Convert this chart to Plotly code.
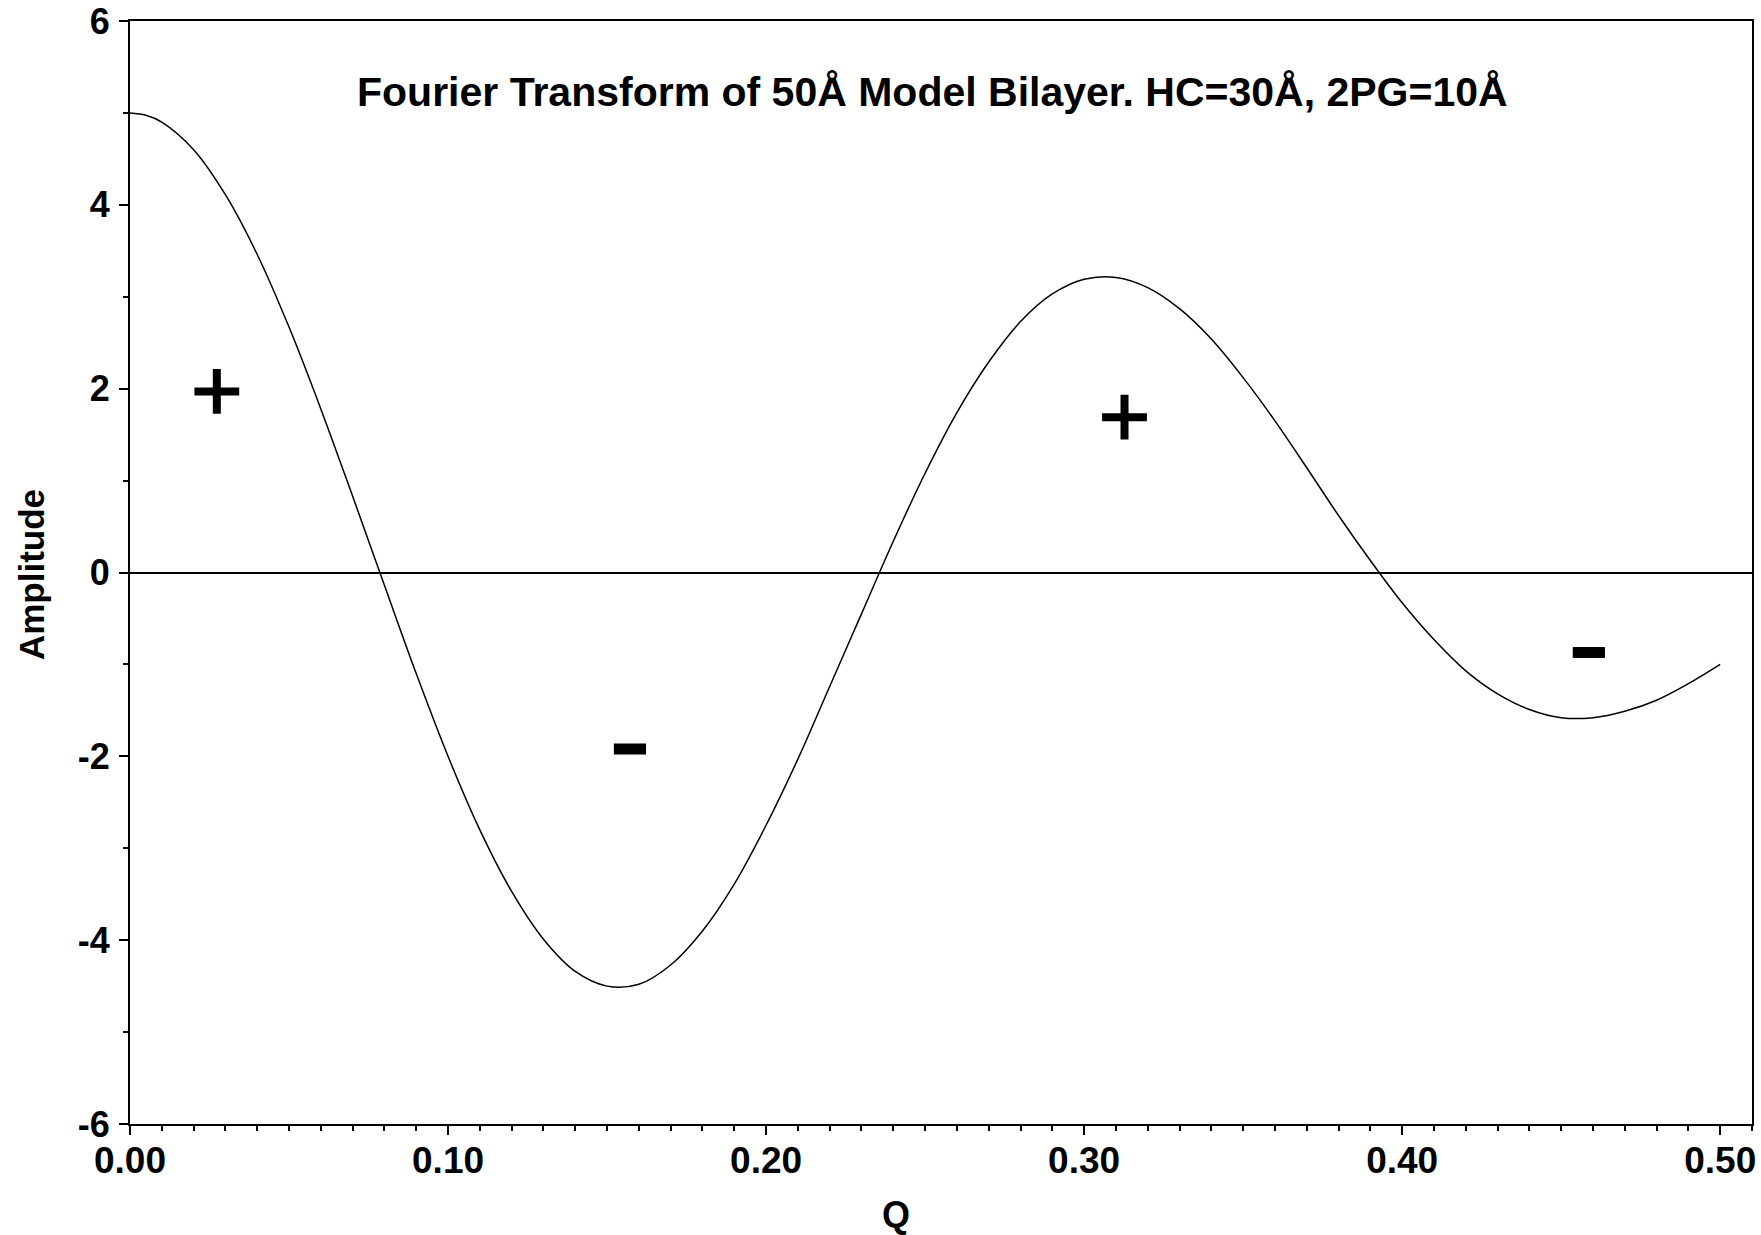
import plotly.graph_objects as go

# Curve (Q, Amplitude)
q_values = [0.00, 0.005, 0.01, 0.02, 0.03, 0.04, 0.05, 0.06, 0.07, 0.08, 0.09,
            0.10, 0.11, 0.12, 0.13, 0.14, 0.15, 0.16, 0.17, 0.18, 0.19,
            0.20, 0.21, 0.22, 0.23, 0.24, 0.25, 0.26, 0.27, 0.28, 0.29,
            0.30, 0.31, 0.32, 0.33, 0.34, 0.35, 0.36, 0.37, 0.38, 0.39,
            0.40, 0.41, 0.42, 0.43, 0.44, 0.45, 0.46, 0.47, 0.48, 0.49,
            0.50]
amplitude = [5.00, 4.975, 4.90, 4.60, 4.11, 3.46, 2.67, 1.78, 0.83, -0.14, -1.10,
             -2.00, -2.80, -3.47, -3.99, -4.34, -4.50, -4.48, -4.27, -3.90, -3.39,
             -2.75, -2.03, -1.24, -0.45, 0.34, 1.08, 1.74, 2.29, 2.73, 3.03,
             3.19, 3.21, 3.10, 2.87, 2.54, 2.12, 1.65, 1.14, 0.62, 0.13,
             -0.33, -0.73, -1.07, -1.32, -1.49, -1.58, -1.58, -1.51, -1.39, -1.21,
             -1.00]

# Sign markers
plus_q = [0.0273, 0.3127]
plus_amp = [1.97, 1.69]
minus_q = [0.1572, 0.4587]
minus_amp = [-1.92, -0.87]

# Tick labels
x_tickvals = [0.0, 0.1, 0.2, 0.3, 0.4, 0.5]
x_ticktext = ["0.00", "0.10", "0.20", "0.30", "0.40", "0.50"]
y_tickvals = [-6, -4, -2, 0, 2, 4, 6]
y_ticktext = ["-6", "-4", "-2", "0", "2", "4", "6"]

title_text = "Fourier Transform of 50Å Model Bilayer. HC=30Å, 2PG=10Å"
x_title = "Q"
y_title = "Amplitude"

FONT = "Liberation Sans, Arial, sans-serif"

fig = go.Figure()
fig.add_trace(go.Scatter(x=q_values, y=amplitude, mode="lines",
                         line=dict(color="black", width=1.5, shape="spline"),
                         showlegend=False, hoverinfo="skip"))
fig.add_trace(go.Scatter(x=plus_q, y=plus_amp, mode="markers",
                         marker=dict(symbol="cross-thin", size=32,
                                     line=dict(color="black", width=8)),
                         showlegend=False))
fig.add_trace(go.Scatter(x=minus_q, y=minus_amp, mode="markers",
                         marker=dict(symbol="line-ew", size=23,
                                     line=dict(color="black", width=11)),
                         showlegend=False))

fig.update_layout(
    width=1761, height=1235,
    margin=dict(l=130, r=9, t=21, b=111, autoexpand=False),
    paper_bgcolor="white", plot_bgcolor="white",
    font=dict(family=FONT, color="black"),
    showlegend=False,
)

fig.update_xaxes(
    range=[0, 0.51], tickmode="array", tickvals=x_tickvals, ticktext=x_ticktext,
    automargin=False, ticklabeloverflow="allow",
    showgrid=False, zeroline=False,
    showline=True, linecolor="black", linewidth=2, mirror=True,
    ticks="outside", ticklen=9, tickwidth=2, tickcolor="black",
    tickfont=dict(family=FONT, size=37, weight="bold", color="black"),
    ticklabelstandoff=-6,
    minor=dict(ticks="outside", dtick=0.01, tick0=0, ticklen=5, tickwidth=2,
               tickcolor="black", showgrid=False),
)
fig.update_yaxes(
    range=[-6, 6], tickmode="array", tickvals=y_tickvals, ticktext=y_ticktext,
    automargin=False, ticklabeloverflow="allow",
    showgrid=False, zeroline=True, zerolinecolor="black", zerolinewidth=1.5,
    showline=True, linecolor="black", linewidth=2, mirror=True,
    ticks="outside", ticklen=9, tickwidth=2, tickcolor="black",
    tickfont=dict(family=FONT, size=36, weight="bold", color="black"),
    ticklabelstandoff=2,
    minor=dict(ticks="outside", dtick=1, tick0=0, ticklen=5, tickwidth=2,
               tickcolor="black", showgrid=False),
)

fig.add_annotation(text=title_text, xref="paper", yref="paper",
                   x=0.495, y=0.9356, xanchor="center", yanchor="middle",
                   showarrow=False,
                   font=dict(family=FONT, size=41, weight="bold", color="black"))
fig.add_annotation(text=x_title, xref="paper", yref="paper",
                   x=0.4723, y=-0.0825, xanchor="center", yanchor="middle",
                   showarrow=False,
                   font=dict(family=FONT, size=36, weight="bold", color="black"))
fig.add_annotation(text=y_title, xref="paper", yref="paper",
                   x=-0.061, y=0.4977, xanchor="center", yanchor="middle",
                   textangle=-90, showarrow=False,
                   font=dict(family=FONT, size=35, weight="bold", color="black"))

fig.write_html("out.html")
